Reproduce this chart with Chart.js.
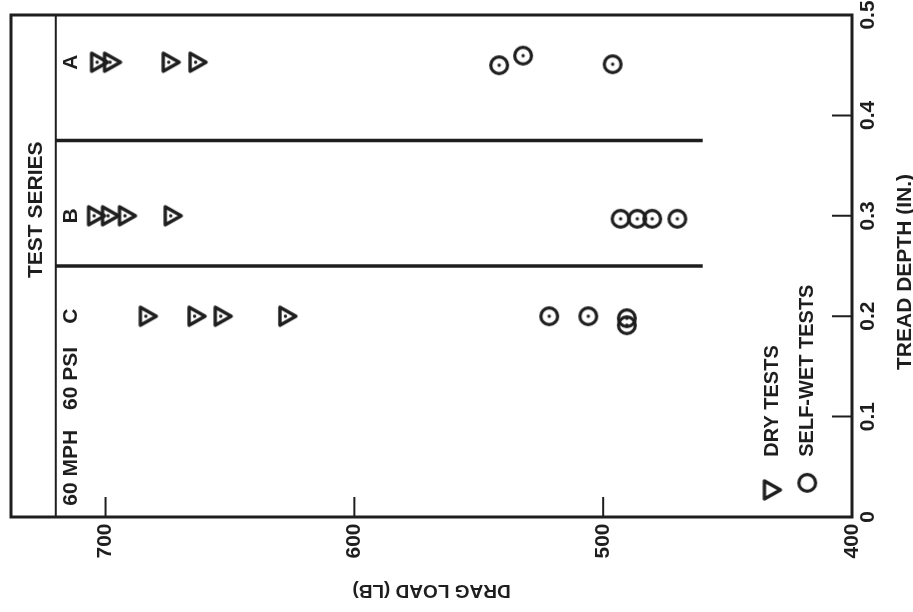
<!DOCTYPE html>
<html>
<head>
<meta charset="utf-8">
<script src="https://cdn.jsdelivr.net/npm/chart.js@4/dist/chart.umd.min.js"></script>
<style>
  html, body { margin: 0; background: #fff; }
</style>
</head>
<body>
<canvas id="dragChart" width="913" height="612"></canvas>
<script>
// Dry tests (triangles): drag load in lb, tread depth in inches
const dryLoad = [702.4, 697.2, 673.6, 662.8, 703.6, 698, 691.2, 672.8, 682.8, 663.2, 652.7, 626.7];
const dryDepth = [0.453, 0.453, 0.453, 0.453, 0.3, 0.3, 0.3, 0.3, 0.2, 0.2, 0.2, 0.2];

// Self-wet tests (circles)
const wetLoad = [541.8, 532.2, 496.2, 493, 486.3, 480.3, 470.2, 521.7, 506, 490.5, 490.5];
const wetDepth = [0.45, 0.4595, 0.451, 0.297, 0.297, 0.297, 0.297, 0.2, 0.2, 0.198, 0.191];

// Test series rows and the panel separators
const seriesNames = ["A", "B", "C"];
const seriesDepth = [0.453, 0.3, 0.2];
const separatorDepth = [0.375, 0.25];
const separatorLoad = [720, 460];
const panelLoad = 720;

// Axis ticks
const loadTicks = [700, 600, 500, 400];
const depthTicks = [0, 0.1, 0.2, 0.3, 0.4, 0.5];
const depthTickLabels = ["0", "0.1", "0.2", "0.3", "0.4", "0.5"];

const ink = "#1e1e1e";
const font = (size) => `bold ${size}px "Liberation Sans", Arial, sans-serif`;

// Marker images: the chart is printed rotated, so the triangle points right
function triangleMark(withDot) {
  const c = document.createElement("canvas");
  c.width = 24; c.height = 24;
  const g = c.getContext("2d");
  g.strokeStyle = ink; g.fillStyle = ink;
  g.lineWidth = 3.4; g.lineJoin = "round";
  g.beginPath();
  g.moveTo(4, 3); g.lineTo(4, 21); g.lineTo(20, 12); g.closePath();
  g.stroke();
  if (withDot) { g.beginPath(); g.arc(9.5, 12, 1.7, 0, Math.PI * 2); g.fill(); }
  return c;
}

function circleMark(withDot) {
  const c = document.createElement("canvas");
  c.width = 24; c.height = 24;
  const g = c.getContext("2d");
  g.strokeStyle = ink; g.fillStyle = ink;
  g.lineWidth = 3.2;
  g.beginPath(); g.arc(12, 12, 8.4, 0, Math.PI * 2); g.stroke();
  if (withDot) { g.beginPath(); g.arc(12, 12, 1.7, 0, Math.PI * 2); g.fill(); }
  return c;
}

function rotText(ctx, txt, x, y, angle, size, align) {
  ctx.save();
  ctx.translate(x, y);
  ctx.rotate(angle);
  ctx.font = font(size);
  ctx.fillStyle = ink;
  ctx.textAlign = align || "center";
  ctx.textBaseline = "middle";
  ctx.fillText(txt, 0, 0);
  ctx.restore();
}

const UP = -Math.PI / 2;

// Frame, inward ticks, rotated labels and legend
const decorations = {
  id: "decorations",
  afterDatasetsDraw(chart) {
    const { ctx, chartArea: a } = chart;
    const xs = chart.scales.x, ys = chart.scales.y;

    ctx.save();
    ctx.strokeStyle = ink;
    ctx.lineWidth = 3;
    ctx.strokeRect(a.left, a.top, a.right - a.left, a.bottom - a.top);

    ctx.lineWidth = 2;
    ctx.beginPath();
    loadTicks.forEach((v) => {
      const px = xs.getPixelForValue(v);
      ctx.moveTo(px, a.bottom); ctx.lineTo(px, a.bottom - 20);
    });
    depthTicks.forEach((v) => {
      const py = ys.getPixelForValue(v);
      ctx.moveTo(a.right, py); ctx.lineTo(a.right - 20, py);
    });
    ctx.stroke();
    ctx.restore();

    loadTicks.forEach((v) => rotText(ctx, String(v), xs.getPixelForValue(v), a.bottom + 24, UP, 21));
    depthTicks.forEach((v, i) => rotText(ctx, depthTickLabels[i], a.right + 16, ys.getPixelForValue(v), UP, 21));

    rotText(ctx, "TREAD DEPTH (IN.)", a.right + 53, ys.getPixelForValue(0.244), UP, 21);
    rotText(ctx, "DRAG LOAD (LB)", (a.left + a.right) / 2, a.bottom + 73, Math.PI, 19);

    // test series panel
    const panelX = xs.getPixelForValue(panelLoad);
    rotText(ctx, "TEST SERIES", (a.left + panelX) / 2 + 3, ys.getPixelForValue(0.306), UP, 21);
    const rowX = xs.getPixelForValue(714);
    seriesNames.forEach((s, i) => rotText(ctx, s, rowX, ys.getPixelForValue(seriesDepth[i]), UP, 21));
    rotText(ctx, "60 PSI", rowX, ys.getPixelForValue(0.138), UP, 21);
    rotText(ctx, "60 MPH", rowX, ys.getPixelForValue(0.049), UP, 21);

    // legend
    const legendRows = [
      { img: triangleMark(false), load: 432, text: "DRY TESTS" },
      { img: circleMark(false), load: 418, text: "SELF-WET TESTS" },
    ];
    legendRows.forEach((r, i) => {
      const lx = xs.getPixelForValue(r.load);
      const my = ys.getPixelForValue(i === 0 ? 0.027 : 0.034);
      ctx.drawImage(r.img, lx - r.img.width / 2, my - r.img.height / 2);
      rotText(ctx, r.text, lx, ys.getPixelForValue(0.06), UP, 20, "left");
    });
  },
};

const pts = (xsArr, ysArr) => xsArr.map((x, i) => ({ x, y: ysArr[i] }));

new Chart(document.getElementById("dragChart"), {
  type: "scatter",
  data: {
    datasets: [
      {
        label: "DRY TESTS",
        data: pts(dryLoad, dryDepth),
        pointStyle: triangleMark(true),
        pointRadius: 10,
      },
      {
        label: "SELF-WET TESTS",
        data: pts(wetLoad, wetDepth),
        pointStyle: circleMark(true),
        pointRadius: 10,
      },
      ...separatorDepth.map((d) => ({
        type: "line",
        data: separatorLoad.map((x) => ({ x, y: d })),
        borderColor: ink,
        borderWidth: 3.5,
        pointRadius: 0,
      })),
      {
        type: "line",
        data: [{ x: panelLoad, y: 0 }, { x: panelLoad, y: 0.5 }],
        borderColor: ink,
        borderWidth: 2,
        pointRadius: 0,
      },
    ],
  },
  options: {
    responsive: false,
    animation: false,
    layout: { padding: { left: 8, top: 15, right: 61, bottom: 95 } },
    plugins: {
      legend: { display: false },
      tooltip: { enabled: false },
    },
    scales: {
      x: { type: "linear", min: 400, max: 738, reverse: true, display: false },
      y: { type: "linear", min: 0, max: 0.5, display: false },
    },
  },
  plugins: [decorations],
});
</script>
</body>
</html>
